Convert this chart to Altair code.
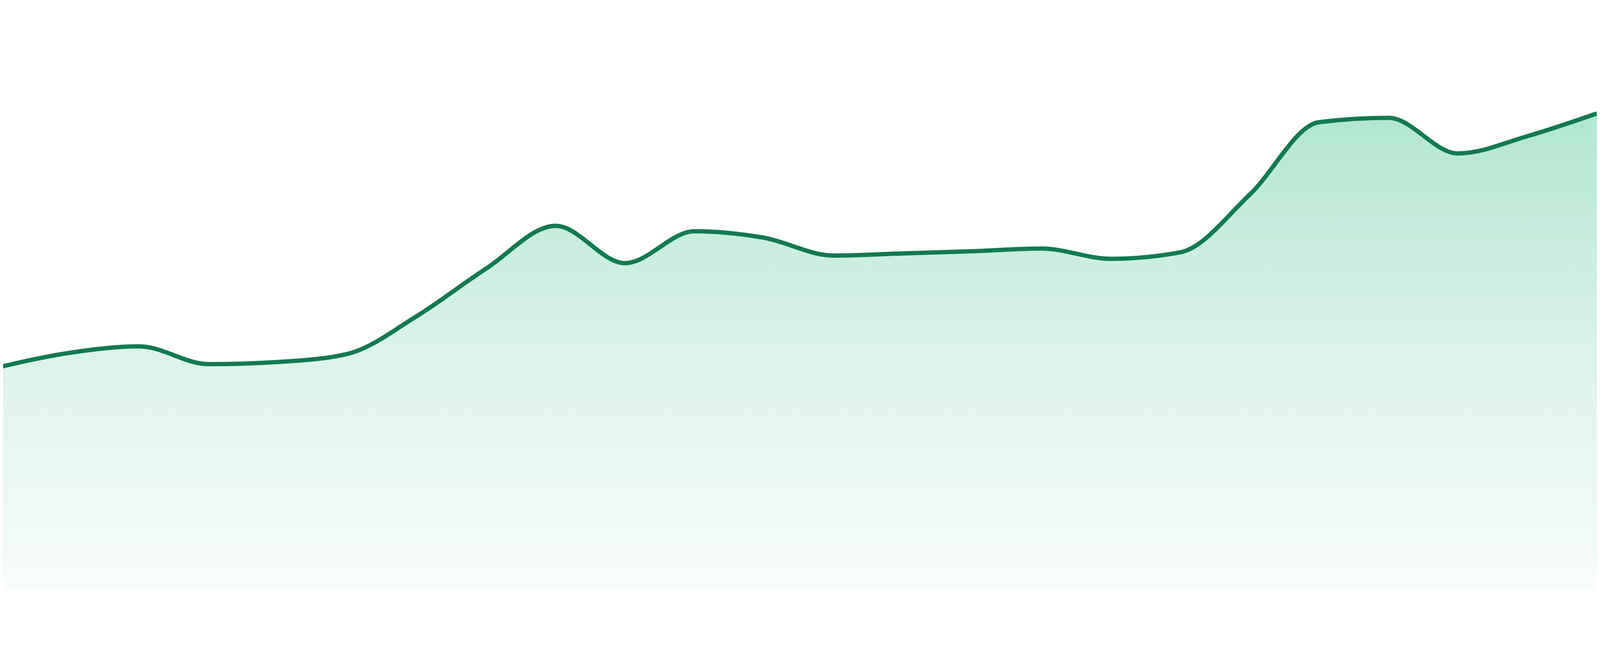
import altair as alt
import pandas as pd

# Data (24 evenly spaced points, arbitrary units 0-100)
day = list(range(24))
value = [41.4, 44.0, 45.2, 41.9, 42.3, 43.8, 50.8, 59.6, 67.5, 60.6, 66.5, 65.3,
         62.0, 62.4, 62.8, 63.3, 61.4, 62.6, 73.3, 86.7, 87.5, 80.9, 84.1, 88.3]

df = pd.DataFrame({"day": day, "value": value})

x_enc = alt.X("day:Q", axis=None,
              scale=alt.Scale(domain=[0.04, 23], nice=False, zero=False, padding=0))
y_enc = alt.Y("value:Q", axis=None,
              scale=alt.Scale(domain=[0, 100], nice=False, zero=True))

area = alt.Chart(df).mark_area(
    interpolate="monotone",
    clip=True,
    color=alt.Gradient(
        gradient="linear",
        x1=0, y1=0, x2=0, y2=1,
        stops=[
            alt.GradientStop(offset=0, color="#b2e6d0"),
            alt.GradientStop(offset=0.5, color="#dbf3ea"),
            alt.GradientStop(offset=1, color="#f8fcfb"),
        ],
    ),
).encode(x=x_enc, y=y_enc)

line = alt.Chart(df).mark_line(
    interpolate="monotone", color="#127a50", strokeWidth=13, clip=True
).encode(x=x_enc, y=y_enc)

chart = (area + line).properties(
    width=4792, height=1625, padding=0, background="white"
).configure_view(stroke=None)

chart.save("out.html", embed_options={"renderer": "svg", "actions": False})
